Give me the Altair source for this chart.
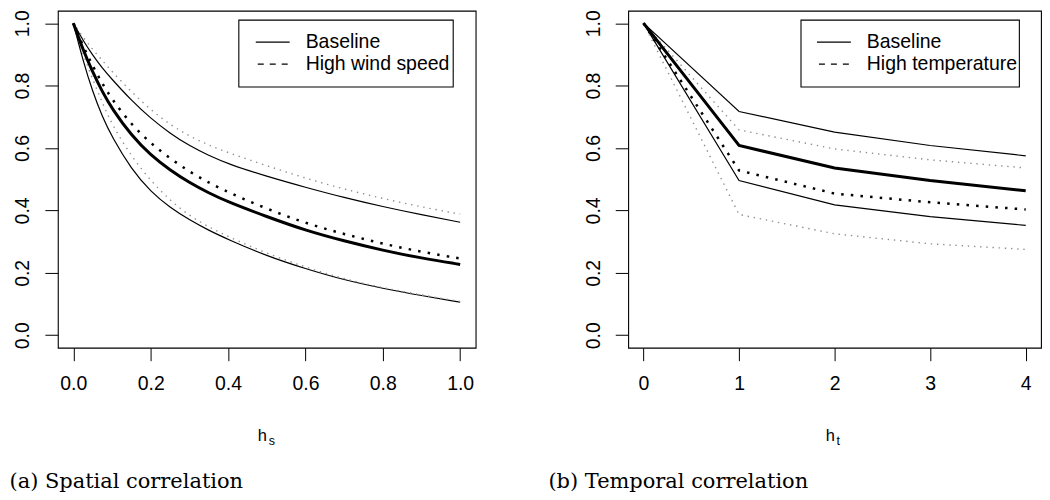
import altair as alt
import pandas as pd

# ---------------- data ----------------
hs = [0.0, 0.025, 0.05, 0.075, 0.1, 0.15, 0.2, 0.25, 0.3, 0.35, 0.4, 0.5, 0.6, 0.7, 0.8, 0.9, 1.0]
hs_base_mid = [1.0, 0.915, 0.843, 0.78, 0.726, 0.64, 0.577, 0.529, 0.489, 0.456, 0.427, 0.38, 0.336, 0.302, 0.272, 0.247, 0.227]
hs_base_up = [1.0, 0.945, 0.8975, 0.856, 0.82, 0.7525, 0.695, 0.647, 0.607, 0.576, 0.549, 0.509, 0.474, 0.441, 0.412, 0.386, 0.362]
hs_base_lo = [1.0, 0.88, 0.78, 0.70, 0.635, 0.532, 0.46, 0.409, 0.37, 0.336, 0.307, 0.254, 0.213, 0.177, 0.15, 0.127, 0.106]
hs_wind_mid = [1.0, 0.927, 0.863, 0.806, 0.756, 0.675, 0.615, 0.567, 0.524, 0.489, 0.458, 0.405, 0.359, 0.324, 0.293, 0.267, 0.246]
hs_wind_up = [1.0, 0.955, 0.916, 0.88, 0.845, 0.78, 0.722, 0.675, 0.638, 0.609, 0.585, 0.543, 0.503, 0.468, 0.438, 0.411, 0.388]
hs_wind_lo = [1.0, 0.9, 0.82, 0.745, 0.675, 0.573, 0.495, 0.432, 0.383, 0.347, 0.316, 0.262, 0.218, 0.18, 0.152, 0.129, 0.108]

ht = [0, 1, 2, 3, 4]
ht_base_mid = [1.0, 0.608, 0.536, 0.496, 0.463]
ht_base_up = [1.0, 0.717, 0.651, 0.608, 0.575]
ht_base_lo = [1.0, 0.496, 0.418, 0.380, 0.352]
ht_temp_mid = [1.0, 0.528, 0.454, 0.426, 0.403]
ht_temp_up = [1.0, 0.658, 0.597, 0.562, 0.536]
ht_temp_lo = [1.0, 0.387, 0.325, 0.293, 0.275]

y_ticks = [0.0, 0.2, 0.4, 0.6, 0.8, 1.0]
x_ticks_left = [0.0, 0.2, 0.4, 0.6, 0.8, 1.0]
x_ticks_right = [0, 1, 2, 3, 4]

legend_left = ["Baseline", "High wind speed"]
legend_right = ["Baseline", "High temperature"]
captions = ["(a) Spatial correlation", "(b) Temporal correlation"]
xtitle_left = ("h", "s")
xtitle_right = ("h", "t")

SANS = "Liberation Sans"
SERIF = "DejaVu Serif"
H = 338


def frame(x, series):
    rows = []
    for name, vals in series.items():
        for xi, yi in zip(x, vals):
            rows.append({"x": xi, "y": yi, "s": name})
    return pd.DataFrame(rows)


def panel(x, mid, up, lo, smid, sup, slo, xdom, xticks, xfmt, width, legend,
          leg_box, leg_line, leg_text_x, xtitle, caption, cap_x, interp):
    xs = alt.Scale(domain=xdom, nice=False, zero=False)
    ys = alt.Scale(domain=[-0.04, 1.04], nice=False, zero=False)
    xax = alt.Axis(values=xticks, format=xfmt, grid=False, domain=False,
                   tickColor="black", tickSize=13, tickWidth=1,
                   labelFont=SANS, labelFontSize=19.5, labelColor="black",
                   labelPadding=14, labelFlush=False, labelOverlap=False, title=None)
    yax = alt.Axis(values=y_ticks, format=".1f", grid=False, domain=False,
                   tickColor="black", tickSize=13, tickWidth=1,
                   labelFont=SANS, labelFontSize=19.5, labelColor="black",
                   labelAngle=270, labelAlign="center", labelBaseline="bottom",
                   labelPadding=12, labelOverlap=False, title=None)

    def lines(df, width_, color, dash=None):
        kw = dict(strokeWidth=width_, color=color, interpolate=interp)
        if dash:
            kw["strokeDash"] = dash
        return alt.Chart(df).mark_line(**kw).encode(
            x=alt.X("x:Q", scale=xs, axis=xax),
            y=alt.Y("y:Q", scale=ys, axis=yax),
            detail="s:N",
        )

    thin = lines(frame(x, {"up": up, "lo": lo}), 1.2, "black")
    thick = lines(frame(x, {"mid": mid}), 3, "black")
    gdot = lines(frame(x, {"up": sup, "lo": slo}), 1.4, "#8f8f8f", [1.4, 4.8])
    bdot = lines(frame(x, {"mid": smid}), 2.5, "black", [2.5, 7.2])

    one = pd.DataFrame({"t": [""]})
    box = alt.Chart(one).mark_rect(fill="white", stroke="black", strokeWidth=1.1).encode(
        x=alt.value(leg_box[0]), x2=alt.value(leg_box[1]),
        y=alt.value(leg_box[2]), y2=alt.value(leg_box[3]))
    r1 = alt.Chart(one).mark_rule(color="black", strokeWidth=1.2).encode(
        x=alt.value(leg_line[0]), x2=alt.value(leg_line[1]), y=alt.value(leg_line[2]))
    r2 = alt.Chart(one).mark_rule(color="black", strokeWidth=1.2, strokeDash=[6, 6]).encode(
        x=alt.value(leg_line[0] + 2), x2=alt.value(leg_line[1]), y=alt.value(leg_line[3]))
    t1 = alt.Chart(pd.DataFrame({"t": [legend[0]]})).mark_text(
        font=SANS, fontSize=19.5, align="left", baseline="middle", color="black").encode(
        x=alt.value(leg_text_x), y=alt.value(leg_line[2]), text="t:N")
    t2 = alt.Chart(pd.DataFrame({"t": [legend[1]]})).mark_text(
        font=SANS, fontSize=19.5, align="left", baseline="middle", color="black").encode(
        x=alt.value(leg_text_x), y=alt.value(leg_line[3]), text="t:N")

    hx = width / 2 - 9
    th = alt.Chart(pd.DataFrame({"t": [xtitle[0]]})).mark_text(
        font=SANS, fontSize=16.5, align="left", baseline="alphabetic", color="black").encode(
        x=alt.value(hx), y=alt.value(431.5), text="t:N")
    ts = alt.Chart(pd.DataFrame({"t": [xtitle[1]]})).mark_text(
        font=SANS, fontSize=12.5, align="left", baseline="alphabetic", color="black").encode(
        x=alt.value(hx + 11), y=alt.value(435.5), text="t:N")
    cap = alt.Chart(pd.DataFrame({"t": [caption]})).mark_text(
        font=SERIF, fontSize=21, align="left", baseline="alphabetic", color="black").encode(
        x=alt.value(cap_x), y=alt.value(479), text="t:N")

    return alt.layer(thin, gdot, bdot, thick, box, r1, r2, t1, t2, th, ts, cap).properties(
        width=width, height=H)


left = panel(hs, hs_base_mid, hs_base_up, hs_base_lo, hs_wind_mid, hs_wind_up, hs_wind_lo,
             [-0.04, 1.04], x_ticks_left, ".1f", 419, legend_left,
             (181.5, 396.5, 9.5, 76.5), (198.5, 232.5, 31.5, 53.5), 248.5,
             xtitle_left, captions[0], -48.5, "basis")
right = panel(ht, ht_base_mid, ht_base_up, ht_base_lo, ht_temp_mid, ht_temp_up, ht_temp_lo,
              [-0.16, 4.16], x_ticks_right, "d", 414, legend_right,
              (173.3, 392.3, 9.5, 76.5), (189.3, 223.3, 31.5, 53.5), 239.3,
              xtitle_right, captions[1], -80, "linear")

chart = alt.hconcat(left, right, spacing=153, bounds="flush").properties(
    padding=0, background="white"
).configure_view(stroke="black", strokeWidth=1.1)

chart.save("out.html", embed_options={"renderer": "svg", "actions": False})
